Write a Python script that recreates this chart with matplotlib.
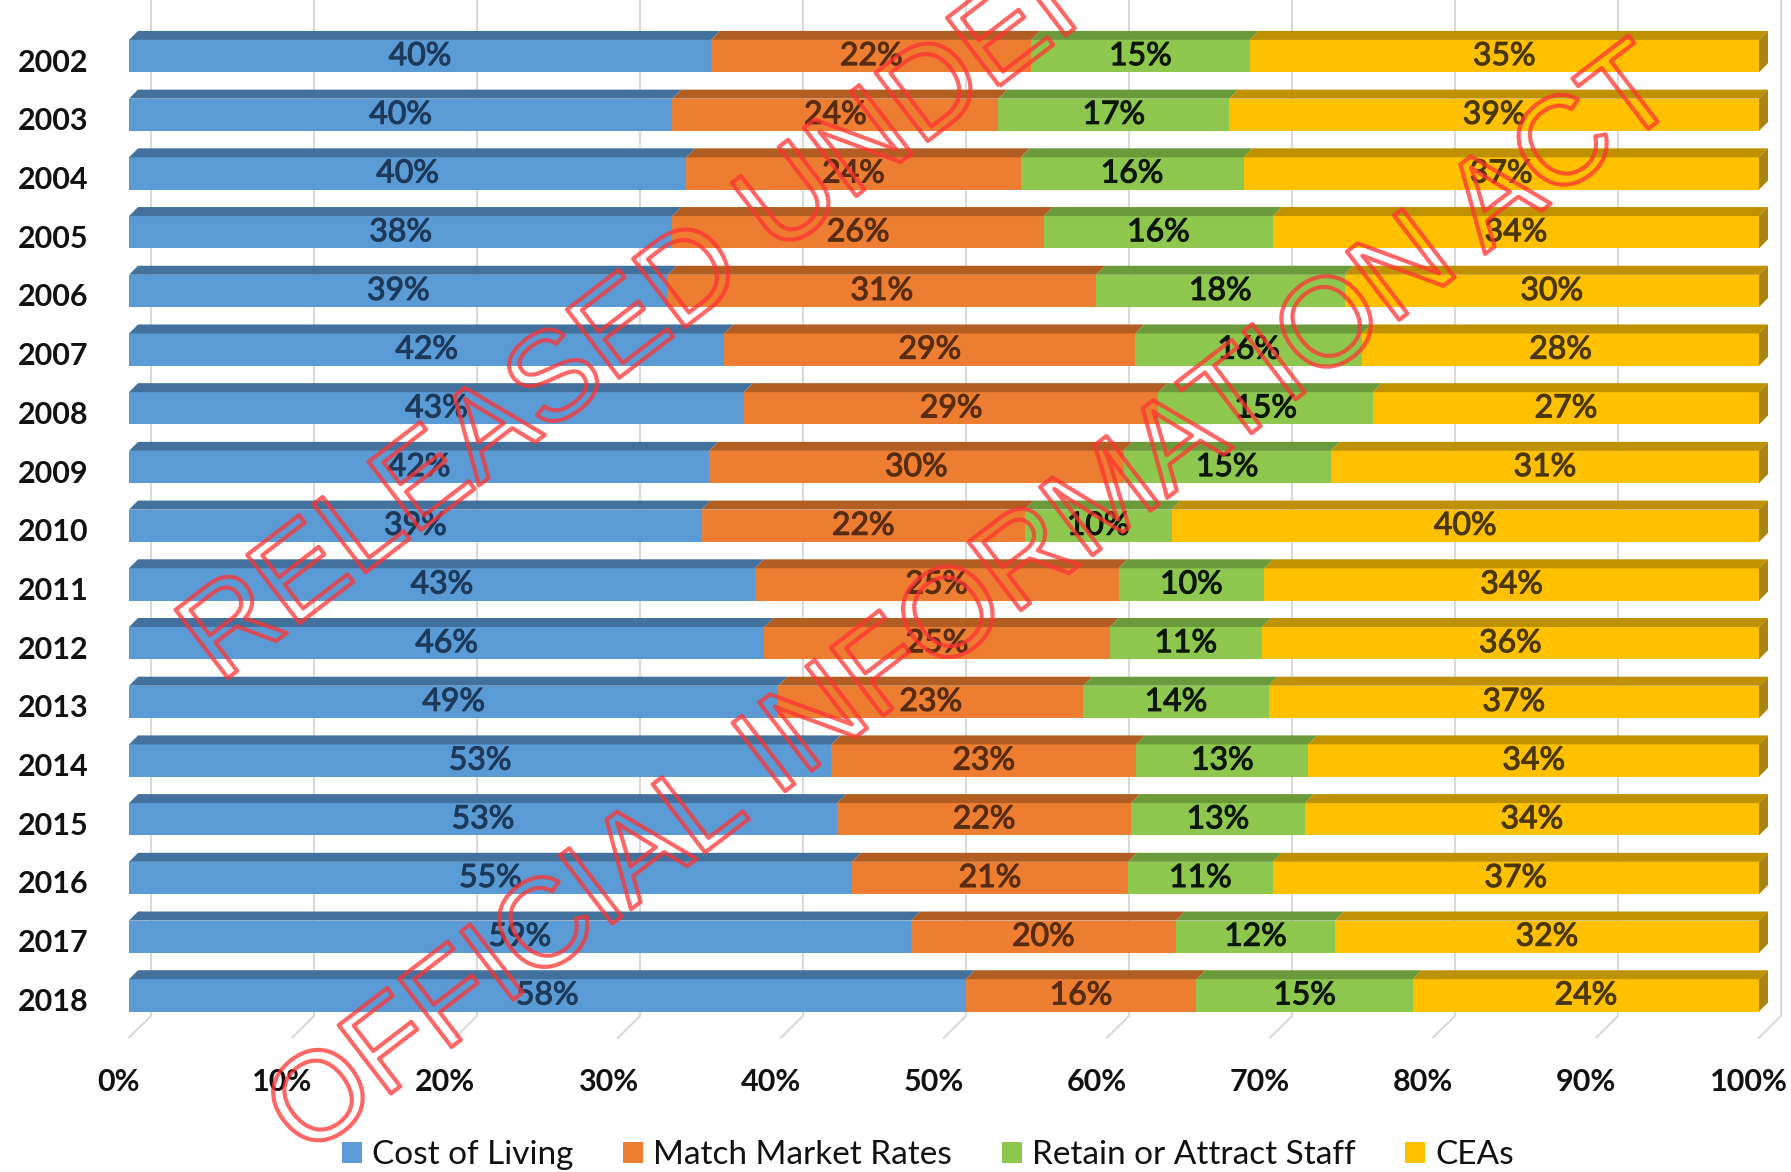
import numpy as np
import matplotlib
matplotlib.use("Agg")
import matplotlib.pyplot as plt
import matplotlib.patheffects as pe
from matplotlib.patches import Patch
from matplotlib.transforms import ScaledTranslation

plt.rcParams['font.family'] = ['Lato', 'DejaVu Sans']

years = ['2002', '2003', '2004', '2005', '2006', '2007', '2008', '2009', '2010',
         '2011', '2012', '2013', '2014', '2015', '2016', '2017', '2018']
cost_of_living = [40, 40, 40, 38, 39, 42, 43, 42, 39, 43, 46, 49, 53, 53, 55, 59, 58]
match_market = [22, 24, 24, 26, 31, 29, 29, 30, 22, 25, 25, 23, 23, 22, 21, 20, 16]
retain_staff = [15, 17, 16, 16, 18, 16, 15, 15, 10, 10, 11, 14, 13, 13, 11, 12, 15]
ceas = [35, 39, 37, 34, 30, 28, 27, 31, 40, 34, 36, 37, 34, 34, 37, 32, 24]
series_names = ['Cost of Living', 'Match Market Rates', 'Retain or Attract Staff', 'CEAs']

front_colors = ['#5B9BD5', '#ED7D31', '#8DC74E', '#FFC000']
top_colors = ['#41719C', '#B25E22', '#6A9A3A', '#BF9000']
label_colors = ['#1E3A5A', '#572C10', '#0C1606', '#4A3706']

fig = plt.figure(figsize=(17.91, 11.72), dpi=100)
ax = fig.add_axes([129 / 1791, 1 - 1040 / 1172, 1630 / 1791, 1035 / 1172])
ax.set_xlim(0, 1)
ax.set_ylim(16.76, -0.87)
for s in ax.spines.values():
    s.set_visible(False)

data = np.array([cost_of_living, match_market, retain_staff, ceas], dtype=float)
shares = data / data.sum(axis=0)
ypos = np.arange(len(years))

h = 0.55
ddx = 9 / 1630
ddy = 9 / 58.7
back = 22 / 1630

# grid lines on back wall + floor
for t in np.arange(0, 1.01, 0.1):
    ax.plot([t + back, t + back, t], [-0.97, 16.35, 16.72], color='#D9D9D9',
            lw=1.5, zorder=0, clip_on=False)

left = np.zeros(len(years))
for k in range(4):
    ax.barh(ypos, shares[k], left=left, height=h, color=front_colors[k],
            edgecolor='none', zorder=2, label=series_names[k])
    for i in range(len(years)):
        l, w = left[i], shares[k][i]
        yt = ypos[i] - h / 2
        ax.fill([l, l + w, l + w + ddx, l + ddx], [yt, yt, yt - ddy, yt - ddy],
                color=top_colors[k], lw=0, zorder=2, clip_on=False)
        ax.text(l + w / 2, ypos[i], '%d%%' % data[k][i], ha='center', va='center',
                fontsize=23, color=label_colors[k], zorder=3,
                path_effects=[pe.withStroke(linewidth=0.8, foreground=label_colors[k])])
    left = left + shares[k]

# right end faces
for i in range(len(years)):
    yt = ypos[i] - h / 2
    ax.fill([1, 1 + ddx, 1 + ddx, 1], [yt, yt - ddy, yt + h - ddy, yt + h],
            color='#A88414', lw=0, zorder=2, clip_on=False)

ax.set_yticks(ypos)
ax.set_yticklabels(years, fontsize=22, fontweight='bold', color='#111111')
ax.set_xticks(np.arange(0, 1.01, 0.1))
ax.set_xticklabels(['%d%%' % v for v in range(0, 101, 10)], fontsize=22,
                   fontweight='bold', color='#111111')
ax.tick_params(axis='both', length=0)
ax.tick_params(axis='y', pad=29)
ax.tick_params(axis='x', pad=20)
for lab in ax.get_xticklabels():
    lab.set_transform(lab.get_transform() + ScaledTranslation(-0.1, 0, fig.dpi_scale_trans))
for lab in ax.get_yticklabels():
    lab.set_transform(lab.get_transform() + ScaledTranslation(0, -0.04, fig.dpi_scale_trans))

handles = [Patch(facecolor=c, edgecolor='none') for c in front_colors]
leg = fig.legend(handles, series_names, loc='center', bbox_to_anchor=(0.518, 0.0145),
                 ncol=4, frameon=False, handlelength=0.6, handleheight=0.6,
                 handletextpad=0.3, columnspacing=1.5, prop={'size': 24})
for t in leg.get_texts():
    t.set_color('#111111')

# watermark
wm = dict(fontsize=90, color=(1, 1, 1, 0), ha='center', va='center', rotation=37.5,
          family='Liberation Sans', zorder=10,
          path_effects=[pe.withStroke(linewidth=3, foreground=(1.0, 0.2, 0.2, 0.75))])
fig.text(655 / 1791, 1 - 310 / 1172, 'RELEASED UNDER', **wm)
fig.text(975 / 1791, 1 - 605 / 1172, 'OFFICIAL INFORMATION ACT', **wm)

fig.savefig('out.png', dpi=100, facecolor='white')
